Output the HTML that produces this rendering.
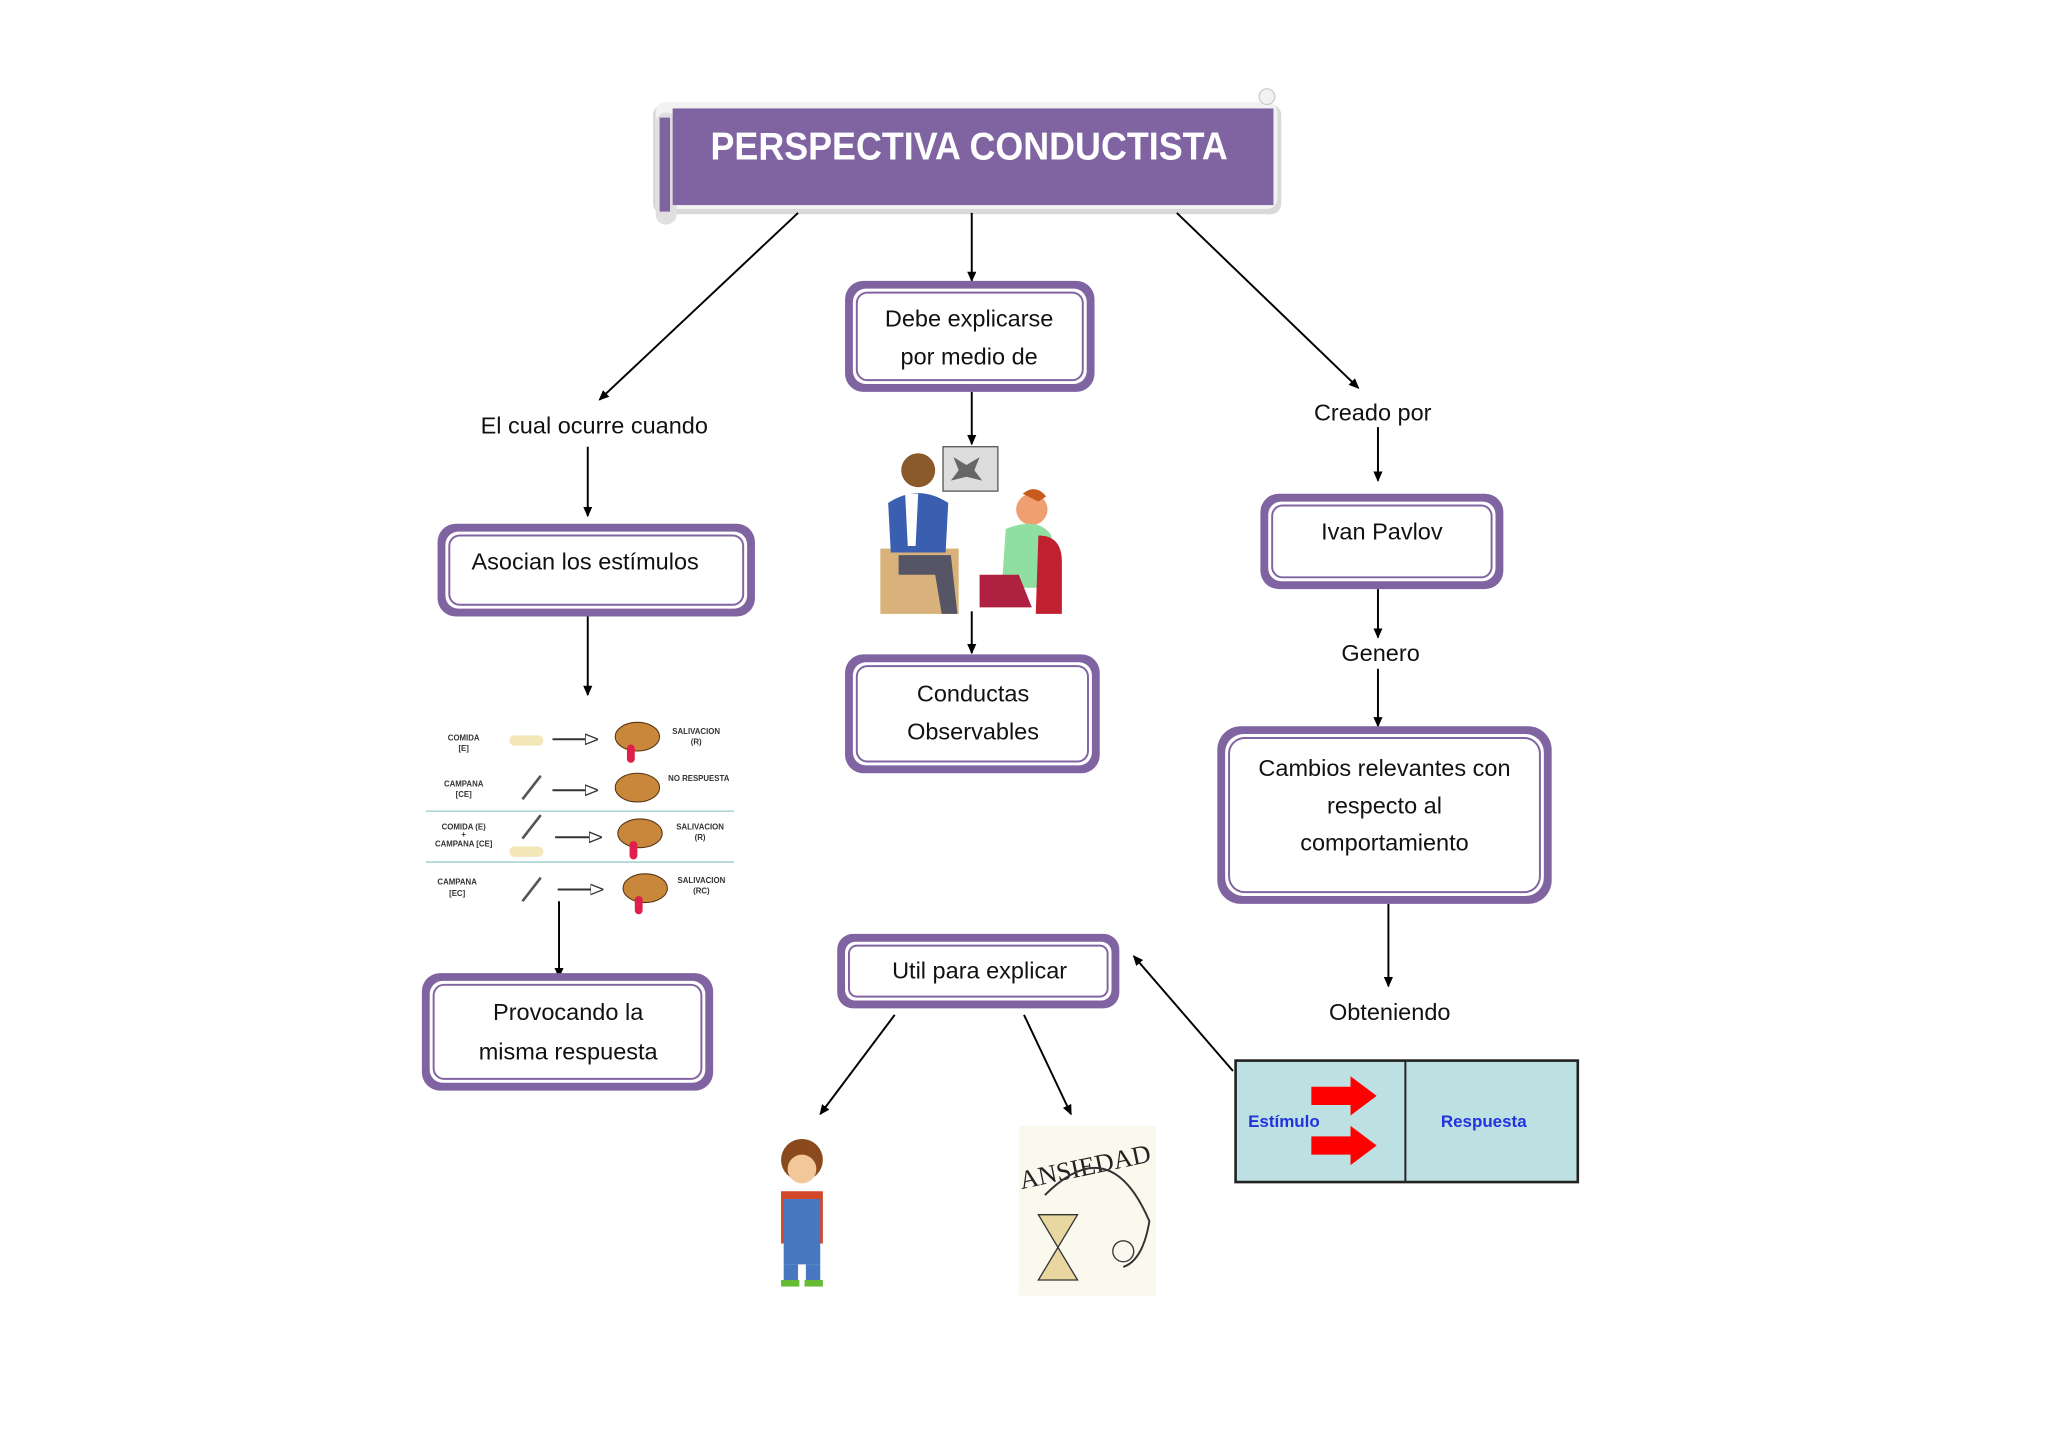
<!DOCTYPE html>
<html><head><meta charset="utf-8"><style>
html,body{margin:0;padding:0;background:#fff;}
svg{display:block;}
text{font-family:"Liberation Sans",sans-serif;}
.t{font-size:18px;fill:#111;text-anchor:middle;}
.s{font-size:6px;fill:#333;font-weight:bold;text-anchor:middle;}
</style></head><body>
<svg width="2048" height="1448" viewBox="0 0 1568 1108.6" xmlns="http://www.w3.org/2000/svg">
<defs>
<marker id="a" markerWidth="8" markerHeight="8" refX="7" refY="4" orient="auto" markerUnits="userSpaceOnUse"><path d="M0,0.5 L8,4 L0,7.5 z" fill="#000"/></marker>
<marker id="ha" markerWidth="10" markerHeight="10" refX="9" refY="5" orient="auto" markerUnits="userSpaceOnUse"><path d="M0,1 L10,5 L0,9 z" fill="#fff" stroke="#333" stroke-width="1"/></marker>
</defs>
<rect width="1568" height="1108.6" fill="#fff"/>

<!-- Title scroll -->
<rect x="500" y="80" width="481" height="84" rx="8" fill="#d9d9d9"/>
<rect x="502" y="78" width="476" height="82" rx="8" fill="#f2f2f2"/>
<rect x="502" y="86" width="16" height="86" rx="8" fill="#e0e0e0"/>
<rect x="505" y="90" width="8" height="72" fill="#8064a2"/>
<circle cx="970" cy="74" r="6" fill="#f2f2f2" stroke="#ccc"/>
<rect x="515" y="83" width="460" height="74" fill="#8064a2"/>
<text x="742" y="122" textLength="396" lengthAdjust="spacingAndGlyphs" style="font-size:30px;font-weight:bold;fill:#fff;text-anchor:middle;">PERSPECTIVA CONDUCTISTA</text>

<!-- Connectors -->
<g stroke="#000" stroke-width="1.5" fill="none" marker-end="url(#a)">
<line x1="611" y1="163" x2="459" y2="306"/>
<line x1="744" y1="163" x2="744" y2="215"/>
<line x1="901" y1="163" x2="1040" y2="297"/>
<line x1="450" y1="342" x2="450" y2="395"/>
<line x1="744" y1="300" x2="744" y2="340"/>
<line x1="744" y1="468" x2="744" y2="500"/>
<line x1="450" y1="472" x2="450" y2="532"/>
<line x1="1055" y1="327" x2="1055" y2="368"/>
<line x1="1055" y1="451" x2="1055" y2="488"/>
<line x1="1055" y1="512" x2="1055" y2="556"/>
<line x1="1063" y1="692" x2="1063" y2="755"/>
<line x1="428" y1="690" x2="428" y2="748"/>
<line x1="685" y1="777" x2="628" y2="853"/>
<line x1="784" y1="777" x2="820" y2="853"/>
<line x1="944" y1="820" x2="868" y2="732"/>
</g>

<!-- Boxes -->
<g>
<rect x="647" y="215" width="191" height="85" rx="14" fill="#8064a2"/><rect x="653" y="221" width="179" height="73" rx="10" fill="#fff"/><rect x="656" y="224" width="173" height="67" rx="8" fill="none" stroke="#8064a2" stroke-width="1.5"/>
<rect x="335" y="401" width="243" height="71" rx="14" fill="#8064a2"/><rect x="341" y="407" width="231" height="59" rx="10" fill="#fff"/><rect x="344" y="410" width="225" height="53" rx="8" fill="none" stroke="#8064a2" stroke-width="1.5"/>
<rect x="647" y="501" width="195" height="91" rx="14" fill="#8064a2"/><rect x="653" y="507" width="183" height="79" rx="10" fill="#fff"/><rect x="656" y="510" width="177" height="73" rx="8" fill="none" stroke="#8064a2" stroke-width="1.5"/>
<rect x="965" y="378" width="186" height="73" rx="14" fill="#8064a2"/><rect x="971" y="384" width="174" height="61" rx="10" fill="#fff"/><rect x="974" y="387" width="168" height="55" rx="8" fill="none" stroke="#8064a2" stroke-width="1.5"/>
<rect x="932" y="556" width="256" height="136" rx="18" fill="#8064a2"/><rect x="938" y="562" width="244" height="124" rx="14" fill="#fff"/><rect x="941" y="565" width="238" height="118" rx="12" fill="none" stroke="#8064a2" stroke-width="1.5"/>
<rect x="323" y="745" width="223" height="90" rx="14" fill="#8064a2"/><rect x="329" y="751" width="211" height="78" rx="10" fill="#fff"/><rect x="332" y="754" width="205" height="72" rx="8" fill="none" stroke="#8064a2" stroke-width="1.5"/>
<rect x="641" y="715" width="216" height="57" rx="12" fill="#8064a2"/><rect x="647" y="721" width="204" height="45" rx="8" fill="#fff"/><rect x="650" y="724" width="198" height="39" rx="6" fill="none" stroke="#8064a2" stroke-width="1.5"/>
</g>

<!-- Box text -->
<text class="t" x="742" y="250">Debe explicarse</text>
<text class="t" x="742" y="279">por medio de</text>
<text class="t" x="448" y="436">Asocian los estímulos</text>
<text class="t" x="745" y="537">Conductas</text>
<text class="t" x="745" y="566">Observables</text>
<text class="t" x="1058" y="413">Ivan Pavlov</text>
<text class="t" x="1060" y="594">Cambios relevantes con</text>
<text class="t" x="1060" y="623">respecto al</text>
<text class="t" x="1060" y="651">comportamiento</text>
<text class="t" x="435" y="781">Provocando la</text>
<text class="t" x="435" y="811">misma respuesta</text>
<text class="t" x="750" y="749">Util para explicar</text>

<!-- Labels -->
<text class="t" x="455" y="332">El cual ocurre cuando</text>
<text class="t" x="1051" y="322">Creado por</text>
<text class="t" x="1057" y="506">Genero</text>
<text class="t" x="1064" y="781">Obteniendo</text>

<!-- Psychologist picture -->
<g>
<rect x="722" y="342" width="42" height="34" fill="#ddd" stroke="#555"/>
<path d="M730,350 l10,6 l10,-6 l-4,10 l6,8 l-12,-3 l-12,3 l6,-8z" fill="#666"/>
<rect x="674" y="420" width="60" height="50" fill="#d8b27a"/>
<circle cx="703" cy="360" r="13" fill="#8a5a2b"/>
<path d="M680,385 q23,-15 46,0 l-2,38 h-42z" fill="#3b5fb0"/>
<path d="M693,378 l10,0 l-2,40 h-6z" fill="#fff"/>
<path d="M688,425 l40,0 l5,45 h-12 l-5,-30 h-28z" fill="#556"/>
<circle cx="790" cy="390" r="12" fill="#f0a070"/>
<path d="M783,378 q10,-8 18,2 l-6,4z" fill="#c85a1e"/>
<path d="M770,405 q25,-10 35,5 l0,40 h-38z" fill="#8fe0a0"/>
<path d="M795,410 q18,0 18,20 v40 h-20z" fill="#c02030"/>
<path d="M750,440 l30,0 l10,25 h-40z" fill="#b02040"/>
</g>

<!-- Dog chart -->
<g>
<line x1="326" y1="621" x2="562" y2="621" stroke="#9cc" stroke-width="1"/>
<line x1="326" y1="660" x2="562" y2="660" stroke="#9cc" stroke-width="1"/>
<text class="s" x="355" y="567">COMIDA</text><text class="s" x="355" y="575">[E]</text>
<text class="s" x="355" y="602">CAMPANA</text><text class="s" x="355" y="610">[CE]</text>
<text class="s" x="355" y="635">COMIDA (E)</text><text class="s" x="355" y="641">+</text><text class="s" x="355" y="648">CAMPANA [CE]</text>
<text class="s" x="350" y="677">CAMPANA</text><text class="s" x="350" y="686">[EC]</text>
<text class="s" x="533" y="562">SALIVACION</text><text class="s" x="533" y="570">(R)</text>
<text class="s" x="535" y="598">NO RESPUESTA</text>
<text class="s" x="536" y="635">SALIVACION</text><text class="s" x="536" y="643">(R)</text>
<text class="s" x="537" y="676">SALIVACION</text><text class="s" x="537" y="684">(RC)</text>
<rect x="390" y="563" width="26" height="8" rx="4" fill="#f3e7b8"/>
<rect x="390" y="648" width="26" height="8" rx="4" fill="#f3e7b8"/>
<g stroke="#555" stroke-width="2"><line x1="400" y1="612" x2="414" y2="594"/><line x1="400" y1="642" x2="414" y2="624"/><line x1="400" y1="690" x2="414" y2="672"/></g>
<g stroke="#333" stroke-width="1.5" fill="none" marker-end="url(#ha)">
<line x1="423" y1="566" x2="457" y2="566"/><line x1="423" y1="605" x2="457" y2="605"/><line x1="425" y1="641" x2="460" y2="641"/><line x1="427" y1="681" x2="461" y2="681"/>
</g>
<g fill="#c8873a" stroke="#553311" stroke-width="0.8">
<ellipse cx="488" cy="564" rx="17" ry="11"/><ellipse cx="488" cy="603" rx="17" ry="11"/><ellipse cx="490" cy="638" rx="17" ry="11"/><ellipse cx="494" cy="680" rx="17" ry="11"/>
</g>
<g fill="#e0204a"><rect x="480" y="570" width="6" height="14" rx="3"/><rect x="482" y="644" width="6" height="14" rx="3"/><rect x="486" y="686" width="6" height="14" rx="3"/></g>
</g>

<!-- Boy -->
<g>
<circle cx="614" cy="888" r="16" fill="#8a4a1e"/>
<circle cx="614" cy="895" r="11" fill="#f2c89a"/>
<path d="M598,912 h32 v40 h-32z" fill="#d4462a"/>
<path d="M600,918 h28 v50 h-28z" fill="#4a78c0"/>
<rect x="600" y="968" width="11" height="14" fill="#4a78c0"/><rect x="617" y="968" width="11" height="14" fill="#4a78c0"/>
<rect x="598" y="980" width="14" height="5" fill="#6b3"/><rect x="616" y="980" width="14" height="5" fill="#6b3"/>
</g>

<!-- Ansiedad -->
<g>
<rect x="780" y="862" width="105" height="130" fill="#fbf8ee"/>
<text x="830" y="900" style="font-size:20px;fill:#222;font-family:'Liberation Serif',serif;text-anchor:middle;" transform="rotate(-12 830 890)">ANSIEDAD</text>
<path d="M800,915 q50,-50 80,20 q-5,30 -20,35" fill="none" stroke="#333" stroke-width="1.5"/>
<path d="M795,930 h30 l-15,25 l15,25 h-30 l15,-25z" fill="#e8d7a0" stroke="#333"/>
<circle cx="860" cy="958" r="8" fill="none" stroke="#333"/>
</g>

<!-- Estimulo / Respuesta -->
<g>
<rect x="946" y="812" width="262" height="93" fill="#bde0e3" stroke="#222" stroke-width="2"/>
<line x1="1076" y1="812" x2="1076" y2="905" stroke="#222" stroke-width="1.5"/>
<path d="M1004,832 h30 v-8 l20,15 l-20,15 v-8 h-30z" fill="#f00"/>
<path d="M1004,870 h30 v-8 l20,15 l-20,15 v-8 h-30z" fill="#f00"/>
<text x="983" y="863" style="font-size:13px;font-weight:bold;fill:#2233dd;text-anchor:middle;">Estímulo</text>
<text x="1136" y="863" style="font-size:13px;font-weight:bold;fill:#2233dd;text-anchor:middle;">Respuesta</text>
</g>
</svg>
</body></html>
